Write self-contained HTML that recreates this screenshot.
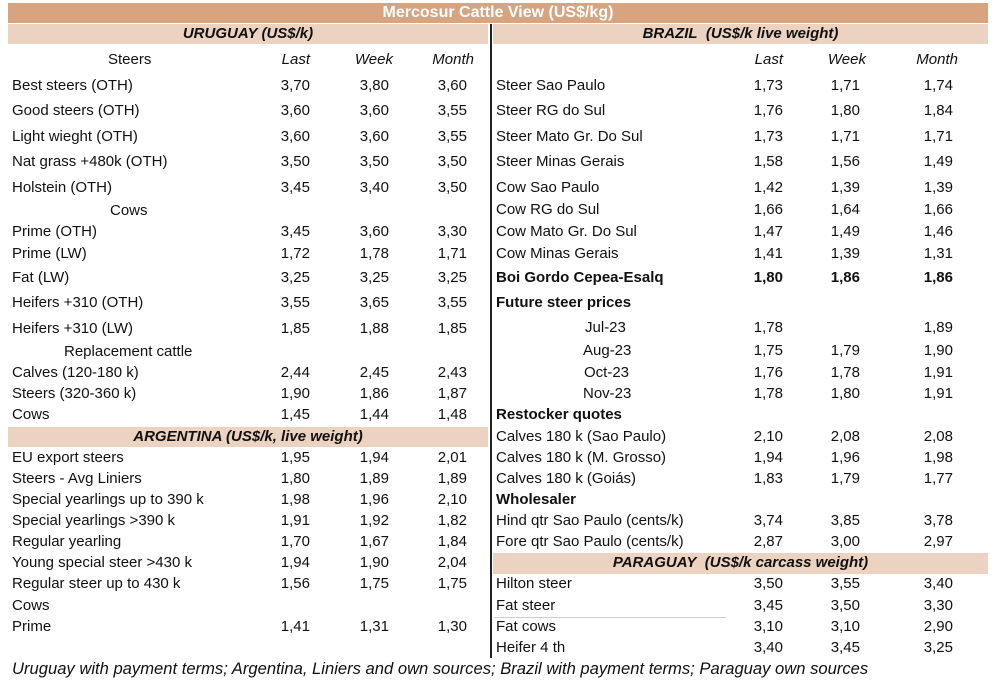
<!DOCTYPE html>
<html><head><meta charset="utf-8"><style>
body{margin:0;width:1000px;height:700px;background:#fff;position:relative;overflow:hidden;font-family:"Liberation Sans",Arial,sans-serif;font-size:15px;color:#111}
.b{position:absolute}
.t{position:absolute;height:20px;line-height:20px;white-space:nowrap}
.v{position:absolute;width:60px;text-align:right;height:20px;line-height:20px}
.h{font-style:italic;font-weight:bold;text-align:center}
</style></head><body>
<div class="b" style="left:8px;top:3px;width:980px;height:20px;background:#d7a47f"></div>
<div class="t" style="left:8px;top:3px;width:980px;text-align:center;color:#fff;font-weight:bold;font-size:16px">Mercosur Cattle View (US$/kg)</div>
<div class="b" style="left:8px;top:24px;width:480px;height:20px;background:#ecd2c1"></div>
<div class="b" style="left:493px;top:24px;width:495px;height:20px;background:#ecd2c1"></div>
<div class="b" style="left:8px;top:427px;width:480px;height:20px;background:#ecd2c1"></div>
<div class="b" style="left:493px;top:553px;width:495px;height:21px;background:#ecd2c1"></div>
<div class="b" style="left:490px;top:24px;width:2px;height:634px;background:#222"></div>
<div class="b" style="left:494px;top:617px;width:232px;height:1px;background:#ccc"></div>
<div class="t h" style="left:8px;top:24px;width:480px">URUGUAY (US$/k)</div>
<div class="t h" style="left:493px;top:24px;width:495px">BRAZIL&nbsp; (US$/k live weight)</div>
<div class="t h" style="left:8px;top:427px;width:480px">ARGENTINA (US$/k, live weight)</div>
<div class="t h" style="left:493px;top:553px;width:495px">PARAGUAY&nbsp; (US$/k carcass weight)</div>
<div class="t" style="left:12px;top:659px;font-style:italic;font-size:16.6px">Uruguay with payment terms; Argentina, Liniers and own sources; Brazil with payment terms; Paraguay own sources</div>
<!-- left -->
<div class="t" style="left:108px;top:50px">Steers</div>
<div class="v" style="left:250px;top:50px;font-style:italic">Last</div>
<div class="v" style="left:333px;top:50px;font-style:italic">Week</div>
<div class="v" style="left:414px;top:50px;font-style:italic">Month</div>
<div class="t" style="left:12px;top:76px">Best steers (OTH)</div><div class="v" style="left:250px;top:76px">3,70</div><div class="v" style="left:329px;top:76px">3,80</div><div class="v" style="left:407px;top:76px">3,60</div>
<div class="t" style="left:12px;top:101px">Good steers (OTH)</div><div class="v" style="left:250px;top:101px">3,60</div><div class="v" style="left:329px;top:101px">3,60</div><div class="v" style="left:407px;top:101px">3,55</div>
<div class="t" style="left:12px;top:127px">Light wieght (OTH)</div><div class="v" style="left:250px;top:127px">3,60</div><div class="v" style="left:329px;top:127px">3,60</div><div class="v" style="left:407px;top:127px">3,55</div>
<div class="t" style="left:12px;top:152px">Nat grass +480k (OTH)</div><div class="v" style="left:250px;top:152px">3,50</div><div class="v" style="left:329px;top:152px">3,50</div><div class="v" style="left:407px;top:152px">3,50</div>
<div class="t" style="left:12px;top:178px">Holstein (OTH)</div><div class="v" style="left:250px;top:178px">3,45</div><div class="v" style="left:329px;top:178px">3,40</div><div class="v" style="left:407px;top:178px">3,50</div>
<div class="t" style="left:110px;top:201px">Cows</div>
<div class="t" style="left:12px;top:222px">Prime (OTH)</div><div class="v" style="left:250px;top:222px">3,45</div><div class="v" style="left:329px;top:222px">3,60</div><div class="v" style="left:407px;top:222px">3,30</div>
<div class="t" style="left:12px;top:244px">Prime (LW)</div><div class="v" style="left:250px;top:244px">1,72</div><div class="v" style="left:329px;top:244px">1,78</div><div class="v" style="left:407px;top:244px">1,71</div>
<div class="t" style="left:12px;top:268px">Fat (LW)</div><div class="v" style="left:250px;top:268px">3,25</div><div class="v" style="left:329px;top:268px">3,25</div><div class="v" style="left:407px;top:268px">3,25</div>
<div class="t" style="left:12px;top:293px">Heifers +310 (OTH)</div><div class="v" style="left:250px;top:293px">3,55</div><div class="v" style="left:329px;top:293px">3,65</div><div class="v" style="left:407px;top:293px">3,55</div>
<div class="t" style="left:12px;top:319px">Heifers +310 (LW)</div><div class="v" style="left:250px;top:319px">1,85</div><div class="v" style="left:329px;top:319px">1,88</div><div class="v" style="left:407px;top:319px">1,85</div>
<div class="t" style="left:64px;top:342px">Replacement cattle</div>
<div class="t" style="left:12px;top:363px">Calves (120-180 k)</div><div class="v" style="left:250px;top:363px">2,44</div><div class="v" style="left:329px;top:363px">2,45</div><div class="v" style="left:407px;top:363px">2,43</div>
<div class="t" style="left:12px;top:384px">Steers (320-360 k)</div><div class="v" style="left:250px;top:384px">1,90</div><div class="v" style="left:329px;top:384px">1,86</div><div class="v" style="left:407px;top:384px">1,87</div>
<div class="t" style="left:12px;top:405px">Cows</div><div class="v" style="left:250px;top:405px">1,45</div><div class="v" style="left:329px;top:405px">1,44</div><div class="v" style="left:407px;top:405px">1,48</div>
<div class="t" style="left:12px;top:448px">EU export steers</div><div class="v" style="left:250px;top:448px">1,95</div><div class="v" style="left:329px;top:448px">1,94</div><div class="v" style="left:407px;top:448px">2,01</div>
<div class="t" style="left:12px;top:469px">Steers - Avg Liniers</div><div class="v" style="left:250px;top:469px">1,80</div><div class="v" style="left:329px;top:469px">1,89</div><div class="v" style="left:407px;top:469px">1,89</div>
<div class="t" style="left:12px;top:490px">Special yearlings up to 390 k</div><div class="v" style="left:250px;top:490px">1,98</div><div class="v" style="left:329px;top:490px">1,96</div><div class="v" style="left:407px;top:490px">2,10</div>
<div class="t" style="left:12px;top:511px">Special yearlings &gt;390 k</div><div class="v" style="left:250px;top:511px">1,91</div><div class="v" style="left:329px;top:511px">1,92</div><div class="v" style="left:407px;top:511px">1,82</div>
<div class="t" style="left:12px;top:532px">Regular yearling</div><div class="v" style="left:250px;top:532px">1,70</div><div class="v" style="left:329px;top:532px">1,67</div><div class="v" style="left:407px;top:532px">1,84</div>
<div class="t" style="left:12px;top:553px">Young special steer &gt;430 k</div><div class="v" style="left:250px;top:553px">1,94</div><div class="v" style="left:329px;top:553px">1,90</div><div class="v" style="left:407px;top:553px">2,04</div>
<div class="t" style="left:12px;top:574px">Regular steer up to 430 k</div><div class="v" style="left:250px;top:574px">1,56</div><div class="v" style="left:329px;top:574px">1,75</div><div class="v" style="left:407px;top:574px">1,75</div>
<div class="t" style="left:12px;top:596px">Cows</div>
<div class="t" style="left:12px;top:617px">Prime</div><div class="v" style="left:250px;top:617px">1,41</div><div class="v" style="left:329px;top:617px">1,31</div><div class="v" style="left:407px;top:617px">1,30</div>
<!-- right -->
<div class="v" style="left:723px;top:50px;font-style:italic">Last</div>
<div class="v" style="left:806px;top:50px;font-style:italic">Week</div>
<div class="v" style="left:898px;top:50px;font-style:italic">Month</div>
<div class="t" style="left:496px;top:76px">Steer Sao Paulo</div><div class="v" style="left:723px;top:76px">1,73</div><div class="v" style="left:800px;top:76px">1,71</div><div class="v" style="left:893px;top:76px">1,74</div>
<div class="t" style="left:496px;top:101px">Steer RG do Sul</div><div class="v" style="left:723px;top:101px">1,76</div><div class="v" style="left:800px;top:101px">1,80</div><div class="v" style="left:893px;top:101px">1,84</div>
<div class="t" style="left:496px;top:127px">Steer Mato Gr. Do Sul</div><div class="v" style="left:723px;top:127px">1,73</div><div class="v" style="left:800px;top:127px">1,71</div><div class="v" style="left:893px;top:127px">1,71</div>
<div class="t" style="left:496px;top:152px">Steer Minas Gerais</div><div class="v" style="left:723px;top:152px">1,58</div><div class="v" style="left:800px;top:152px">1,56</div><div class="v" style="left:893px;top:152px">1,49</div>
<div class="t" style="left:496px;top:178px">Cow Sao Paulo</div><div class="v" style="left:723px;top:178px">1,42</div><div class="v" style="left:800px;top:178px">1,39</div><div class="v" style="left:893px;top:178px">1,39</div>
<div class="t" style="left:496px;top:200px">Cow RG do Sul</div><div class="v" style="left:723px;top:200px">1,66</div><div class="v" style="left:800px;top:200px">1,64</div><div class="v" style="left:893px;top:200px">1,66</div>
<div class="t" style="left:496px;top:222px">Cow Mato Gr. Do Sul</div><div class="v" style="left:723px;top:222px">1,47</div><div class="v" style="left:800px;top:222px">1,49</div><div class="v" style="left:893px;top:222px">1,46</div>
<div class="t" style="left:496px;top:244px">Cow Minas Gerais</div><div class="v" style="left:723px;top:244px">1,41</div><div class="v" style="left:800px;top:244px">1,39</div><div class="v" style="left:893px;top:244px">1,31</div>
<div class="t" style="left:496px;top:268px;font-weight:bold">Boi Gordo Cepea-Esalq</div><div class="v" style="left:723px;top:268px;font-weight:bold">1,80</div><div class="v" style="left:800px;top:268px;font-weight:bold">1,86</div><div class="v" style="left:893px;top:268px;font-weight:bold">1,86</div>
<div class="t" style="left:496px;top:293px;font-weight:bold">Future steer prices</div>
<div class="t" style="left:585px;top:318px">Jul-23</div><div class="v" style="left:723px;top:318px">1,78</div><div class="v" style="left:893px;top:318px">1,89</div>
<div class="t" style="left:583px;top:341px">Aug-23</div><div class="v" style="left:723px;top:341px">1,75</div><div class="v" style="left:800px;top:341px">1,79</div><div class="v" style="left:893px;top:341px">1,90</div>
<div class="t" style="left:584px;top:363px">Oct-23</div><div class="v" style="left:723px;top:363px">1,76</div><div class="v" style="left:800px;top:363px">1,78</div><div class="v" style="left:893px;top:363px">1,91</div>
<div class="t" style="left:583px;top:384px">Nov-23</div><div class="v" style="left:723px;top:384px">1,78</div><div class="v" style="left:800px;top:384px">1,80</div><div class="v" style="left:893px;top:384px">1,91</div>
<div class="t" style="left:496px;top:405px;font-weight:bold">Restocker quotes</div>
<div class="t" style="left:496px;top:427px">Calves 180 k (Sao Paulo)</div><div class="v" style="left:723px;top:427px">2,10</div><div class="v" style="left:800px;top:427px">2,08</div><div class="v" style="left:893px;top:427px">2,08</div>
<div class="t" style="left:496px;top:448px">Calves 180 k (M. Grosso)</div><div class="v" style="left:723px;top:448px">1,94</div><div class="v" style="left:800px;top:448px">1,96</div><div class="v" style="left:893px;top:448px">1,98</div>
<div class="t" style="left:496px;top:469px">Calves 180 k (Goiás)</div><div class="v" style="left:723px;top:469px">1,83</div><div class="v" style="left:800px;top:469px">1,79</div><div class="v" style="left:893px;top:469px">1,77</div>
<div class="t" style="left:496px;top:490px;font-weight:bold">Wholesaler</div>
<div class="t" style="left:496px;top:511px">Hind qtr Sao Paulo (cents/k)</div><div class="v" style="left:723px;top:511px">3,74</div><div class="v" style="left:800px;top:511px">3,85</div><div class="v" style="left:893px;top:511px">3,78</div>
<div class="t" style="left:496px;top:532px">Fore qtr Sao Paulo (cents/k)</div><div class="v" style="left:723px;top:532px">2,87</div><div class="v" style="left:800px;top:532px">3,00</div><div class="v" style="left:893px;top:532px">2,97</div>
<div class="t" style="left:496px;top:574px">Hilton steer</div><div class="v" style="left:723px;top:574px">3,50</div><div class="v" style="left:800px;top:574px">3,55</div><div class="v" style="left:893px;top:574px">3,40</div>
<div class="t" style="left:496px;top:596px">Fat steer</div><div class="v" style="left:723px;top:596px">3,45</div><div class="v" style="left:800px;top:596px">3,50</div><div class="v" style="left:893px;top:596px">3,30</div>
<div class="t" style="left:496px;top:617px">Fat cows</div><div class="v" style="left:723px;top:617px">3,10</div><div class="v" style="left:800px;top:617px">3,10</div><div class="v" style="left:893px;top:617px">2,90</div>
<div class="t" style="left:496px;top:638px">Heifer 4 th</div><div class="v" style="left:723px;top:638px">3,40</div><div class="v" style="left:800px;top:638px">3,45</div><div class="v" style="left:893px;top:638px">3,25</div>
</body></html>
